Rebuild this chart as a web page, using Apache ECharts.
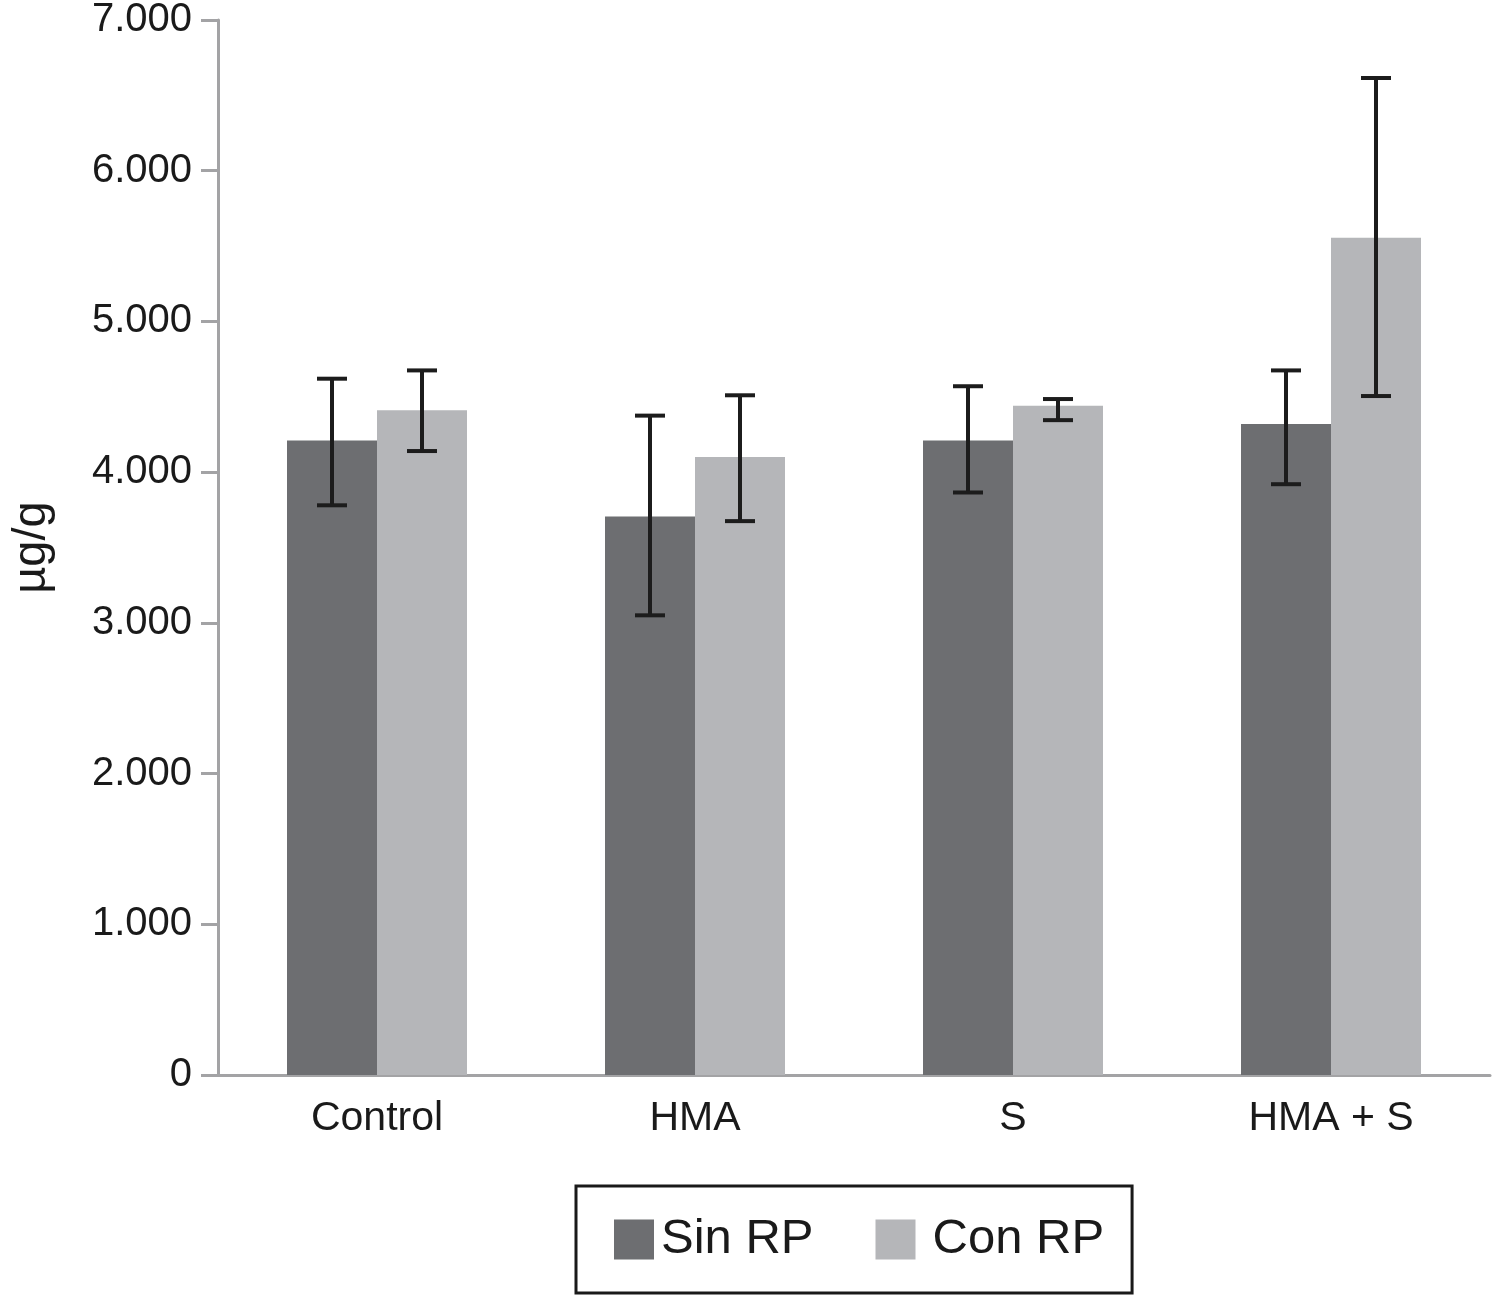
<!DOCTYPE html>
<html>
<head>
<meta charset="utf-8">
<script src="https://cdn.jsdelivr.net/npm/echarts@6/dist/echarts.min.js"></script>
<style>
html,body{margin:0;padding:0;background:#fff;}
#chart{width:1492px;height:1295px;}
</style>
</head>
<body>
<div id="chart"></div>
<script>
const categories = ['Control', 'HMA', 'S', 'HMA + S'];
const seriesNames = ['Sin RP', 'Con RP'];
const sinRP = [4210, 3705, 4210, 4320];
const conRP = [4410, 4100, 4440, 5555];
const sinRPLow = [3780, 3050, 3865, 3920];
const sinRPHigh = [4620, 4375, 4570, 4675];
const conRPLow = [4140, 3675, 4345, 4505];
const conRPHigh = [4675, 4510, 4485, 6615];
const yTicks = [0, 1000, 2000, 3000, 4000, 5000, 6000, 7000];

const FONT = '"Liberation Sans", Arial, sans-serif';
const BAR_W = 90;

function errData(low, high) {
  return categories.map((c, i) => [i, low[i], high[i]]);
}

function errSeries(name, low, high, offsetSign) {
  return {
    type: 'custom',
    name: name + ' error',
    z: 10,
    silent: true,
    data: errData(low, high),
    encode: { x: 0, y: [1, 2] },
    renderItem: function (params, api) {
      const idx = api.value(0);
      const lo = api.coord([idx, api.value(1)]);
      const hi = api.coord([idx, api.value(2)]);
      const x = lo[0] + offsetSign * BAR_W / 2;
      const cap = 15;
      const style = { stroke: '#1c1c1c', lineWidth: 4 };
      return {
        type: 'group',
        children: [
          { type: 'line', shape: { x1: x, y1: hi[1], x2: x, y2: lo[1] }, style: style },
          { type: 'line', shape: { x1: x - cap, y1: hi[1], x2: x + cap, y2: hi[1] }, style: style },
          { type: 'line', shape: { x1: x - cap, y1: lo[1], x2: x + cap, y2: lo[1] }, style: style }
        ]
      };
    }
  };
}

const chart = echarts.init(document.getElementById('chart'), null, { renderer: 'canvas' });
chart.setOption({
  animation: false,
  backgroundColor: '#ffffff',
  grid: { left: 218, right: 2, top: 19, bottom: 220, containLabel: false },
  legend: {
    data: [
      { name: seriesNames[0] },
      { name: seriesNames[1], textStyle: { padding: [0, 0, 0, 12] } }
    ],
    left: 576,
    top: 1186,
    orient: 'horizontal',
    itemWidth: 40,
    itemHeight: 40,
    itemGap: 62,
    padding: [29, 28, 29, 38],
    borderColor: '#1a1a1a',
    borderWidth: 3,
    icon: 'rect',
    textStyle: { fontFamily: FONT, fontSize: 49, color: '#1a1a1a', padding: [0, 0, 0, 2] },
    selectedMode: false
  },
  xAxis: {
    type: 'category',
    data: categories,
    axisLine: { lineStyle: { color: '#a3a3a5', width: 3 } },
    axisTick: { show: false },
    axisLabel: { fontFamily: FONT, fontSize: 41, color: '#1a1a1a', margin: 23 }
  },
  yAxis: {
    type: 'value',
    min: 0,
    max: 7000,
    interval: 1000,
    name: 'µg/g',
    nameLocation: 'middle',
    nameGap: 162,
    nameRotate: 90,
    nameTextStyle: { fontFamily: FONT, fontSize: 47, color: '#1a1a1a' },
    axisLine: { show: true, lineStyle: { color: '#a3a3a5', width: 3 } },
    axisTick: { show: true, length: 17, lineStyle: { color: '#a3a3a5', width: 3 } },
    splitLine: { show: false },
    axisLabel: {
      fontFamily: FONT, fontSize: 40, color: '#1a1a1a', margin: 26,
      formatter: function (v) {
        return v === 0 ? '0' : String(v).replace(/\B(?=(\d{3})+(?!\d))/g, '.');
      }
    }
  },
  series: [
    {
      name: seriesNames[0], type: 'bar', data: sinRP, barWidth: BAR_W, barGap: '0%',
      itemStyle: { color: '#6d6e71' }
    },
    {
      name: seriesNames[1], type: 'bar', data: conRP, barWidth: BAR_W, barGap: '0%',
      itemStyle: { color: '#b5b6b9' }
    },
    errSeries(seriesNames[0], sinRPLow, sinRPHigh, -1),
    errSeries(seriesNames[1], conRPLow, conRPHigh, 1)
  ]
});
</script>
</body>
</html>
